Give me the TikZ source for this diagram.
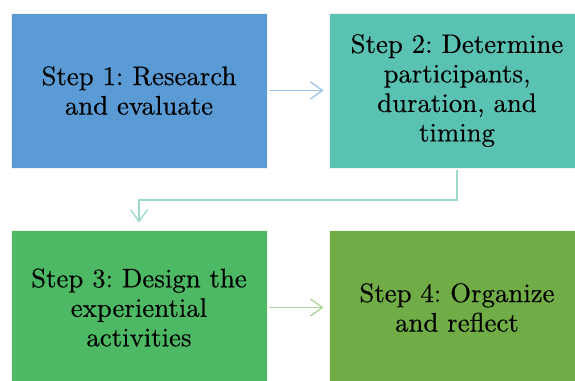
\documentclass[tikz,border=0pt]{standalone}
\usepackage{fontspec}
\newfontfamily\stepfont{lmroman10-regular.otf}[FakeBold=0.3]
\frenchspacing
\usetikzlibrary{arrows.meta}
\definecolor{stepblue}{HTML}{5B9BD5}
\definecolor{stepteal}{HTML}{5AC2B2}
\definecolor{stepgreen}{HTML}{4DB964}
\definecolor{stepolive}{HTML}{70AD47}
\definecolor{linkblue}{HTML}{9DC3E6}
\definecolor{linkmint}{HTML}{9EDBC3}
\definecolor{linkgreen}{HTML}{A9D596}
\begin{document}
\begin{tikzpicture}[x=1pt,y=-1pt,
  stepbox/.style={rectangle, draw=white!90!gray, line width=0.8pt,
    minimum width=256pt, minimum height=155pt, inner sep=4pt,
    align=center, text width=246pt,
    font=\stepfont\fontsize{26.8pt}{29.5pt}\selectfont, text=black},
  link/.style={line width=1.6pt, shorten <=1.5pt, shorten >=5pt,
    -{Straight Barb[length=12pt, width=17pt, line width=1.3pt]}}]
  \useasboundingbox (0,0) rectangle (575,380);
  \fill[white] (0,0) rectangle (575,380);
  \begin{scope}
    \clip (0,0) rectangle (575,380);
    \node[stepbox, fill=stepblue] (s1) at (139,90.5) {Step 1: Research\\and evaluate};
    \node[stepbox, fill=stepteal] (s2) at (457,90.5) {Step 2: Determine\\participants,\\duration, and\\timing};
    \node[stepbox, fill=stepgreen] (s3) at (139,307.5) {Step 3: Design the\\experiential\\activities};
    \node[stepbox, fill=stepolive] (s4) at (457,307.5) {Step 4: Organize\\and reflect};
  \end{scope}
  \coordinate (bend) at (0,200);
  \draw[link, draw=linkblue] (s1) -- (s2);
  \draw[link, draw=linkmint, shorten <=2pt, shorten >=7pt]
    (s2.south) -- (s2.south |- bend) -| (s3.north);
  \draw[link, draw=linkgreen] (s3) -- (s4);
\end{tikzpicture}
\end{document}
